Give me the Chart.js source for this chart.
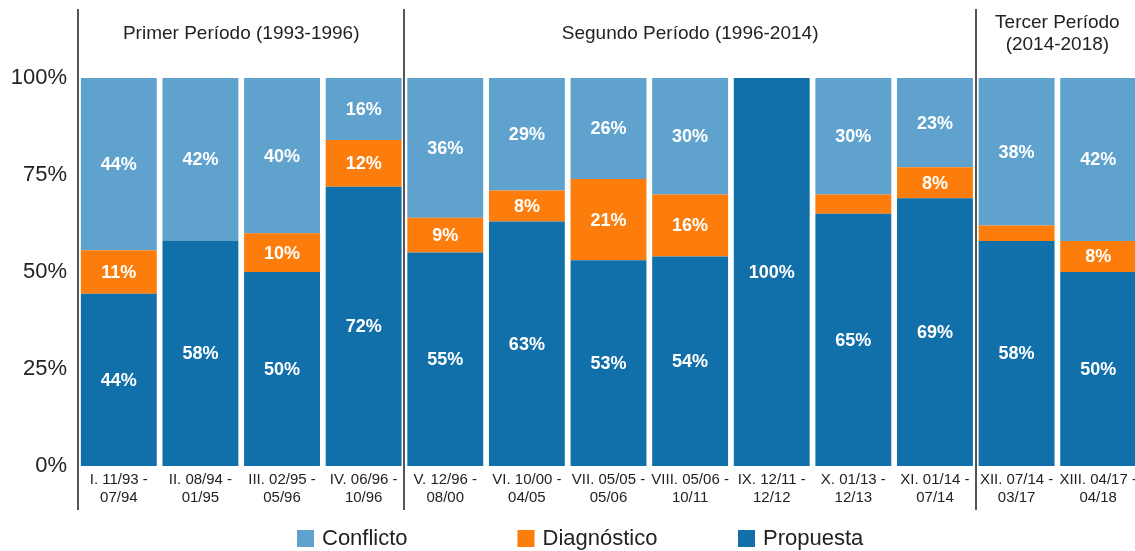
<!DOCTYPE html>
<html>
<head>
<meta charset="utf-8">
<script src="https://cdn.jsdelivr.net/npm/chart.js@4/dist/chart.umd.min.js"></script>
<style>
    body { margin: 0; background: #fff; overflow: hidden; }
    #wrap { width: 1135px; height: 551px; overflow: hidden; }
</style>
</head>
<body>
<div id="wrap"><canvas id="chart" width="1139" height="551"></canvas></div>
<script>
// Categories (two-line tick labels)
const categories = [
    ['I. 11/93 -', '07/94'],
    ['II. 08/94 -', '01/95'],
    ['III. 02/95 -', '05/96'],
    ['IV. 06/96 -', '10/96'],
    ['V. 12/96 -', '08/00'],
    ['VI. 10/00 -', '04/05'],
    ['VII. 05/05 -', '05/06'],
    ['VIII. 05/06 -', '10/11'],
    ['IX. 12/11 -', '12/12'],
    ['X. 01/13 -', '12/13'],
    ['XI. 01/14 -', '07/14'],
    ['XII. 07/14 -', '03/17'],
    ['XIII. 04/17 -', '04/18']
];

// Series values (percent of each period)
const propuesta   = [44.4, 58, 50, 72, 55, 63, 53, 54, 100, 65, 69, 58, 50];
const diagnostico = [11.2, 0, 10, 12, 9, 8, 21, 16, 0, 5, 8, 4, 8];
const conflicto   = [44.4, 42, 40, 16, 36, 29, 26, 30, 0, 30, 23, 38, 42];

const yTicks = [0, 25, 50, 75, 100];

// Periods: label lines and index range of categories
const periods = [
    { lines: ['Primer Período (1993-1996)'], from: 0, to: 3 },
    { lines: ['Segundo Período (1996-2014)'], from: 4, to: 10 },
    { lines: ['Tercer Período', '(2014-2018)'], from: 11, to: 12 }
];

const COLORS = {
    propuesta: '#1170aa',
    diagnostico: '#fc7d0b',
    conflicto: '#5fa2ce'
};

const FONT = "'Liberation Sans', Arial, sans-serif";

// Draws value labels, period headers, separators and legend
const decorations = {
    id: 'decorations',
    afterDatasetsDraw(chart) {
        const ctx = chart.ctx;
        ctx.save();
        ctx.fillStyle = '#ffffff';
        ctx.font = 'bold 18px ' + FONT;
        ctx.textAlign = 'center';
        ctx.textBaseline = 'middle';
        chart.data.datasets.forEach((ds, di) => {
            const meta = chart.getDatasetMeta(di);
            meta.data.forEach((bar, i) => {
                const v = ds.data[i];
                if (v < 6) return;
                ctx.fillText(Math.round(v) + '%', bar.x, (bar.y + bar.base) / 2 + 1);
            });
        });
        ctx.restore();
    },
    afterDraw(chart) {
        const ctx = chart.ctx;
        const x = chart.scales.x;
        const area = chart.chartArea;
        const half = (x.getPixelForValue(1) - x.getPixelForValue(0)) / 2;

        ctx.save();
        // separators
        ctx.strokeStyle = '#555';
        ctx.lineWidth = 2;
        const bounds = [area.left];
        periods.slice(1).forEach(p => bounds.push(x.getPixelForValue(p.from) - half));
        bounds.forEach(bx => {
            ctx.beginPath();
            ctx.moveTo(Math.round(bx), 9);
            ctx.lineTo(Math.round(bx), 510);
            ctx.stroke();
        });

        // period headers
        ctx.fillStyle = '#222';
        ctx.font = '19px ' + FONT;
        ctx.textAlign = 'center';
        ctx.textBaseline = 'middle';
        periods.forEach(p => {
            const cx = (x.getPixelForValue(p.from) + x.getPixelForValue(p.to)) / 2;
            const lh = 22;
            const y0 = 34 - (p.lines.length - 1) * lh / 2;
            p.lines.forEach((t, i) => ctx.fillText(t, cx, y0 + i * lh));
        });

        // legend
        const items = chart.data.datasets.slice().reverse();
        ctx.font = '22px ' + FONT;
        ctx.textAlign = 'left';
        items.forEach((ds, i) => {
            const lx = 297 + i * 220.5;
            ctx.fillStyle = ds.backgroundColor;
            ctx.fillRect(lx, 530, 17, 17);
            ctx.fillStyle = '#222';
            ctx.fillText(ds.label, lx + 25, 539);
        });
        ctx.restore();
    }
};

new Chart(document.getElementById('chart'), {
    type: 'bar',
    data: {
        labels: categories,
        datasets: [
            { label: 'Propuesta', data: propuesta, backgroundColor: COLORS.propuesta },
            { label: 'Diagnóstico', data: diagnostico, backgroundColor: COLORS.diagnostico },
            { label: 'Conflicto', data: conflicto, backgroundColor: COLORS.conflicto }
        ]
    },
    options: {
        responsive: false,
        animation: false,
        devicePixelRatio: 1,
        layout: { padding: { top: 78, bottom: 39, left: 0, right: 0 } },
        datasets: { bar: { barPercentage: 0.93, categoryPercentage: 1 } },
        plugins: {
            legend: { display: false },
            tooltip: { enabled: false }
        },
        scales: {
            x: {
                stacked: true,
                afterFit: scale => { scale.paddingRight = 0; scale.paddingLeft = 0; },
                grid: { display: false, drawTicks: false },
                border: { display: false },
                ticks: {
                    color: '#222',
                    font: { family: FONT, size: 15 },
                    padding: 5,
                    maxRotation: 0,
                    autoSkip: false
                }
            },
            y: {
                stacked: true,
                min: 0,
                max: 100,
                afterBuildTicks: scale => { scale.ticks = yTicks.map(v => ({ value: v })); },
                afterFit: scale => { scale.width = 78; },
                grid: { display: false, drawTicks: false },
                border: { display: false },
                ticks: {
                    color: '#222',
                    font: { family: FONT, size: 22 },
                    padding: 11,
                    callback: v => v + '%'
                }
            }
        }
    },
    plugins: [decorations]
});
</script>
</body>
</html>
